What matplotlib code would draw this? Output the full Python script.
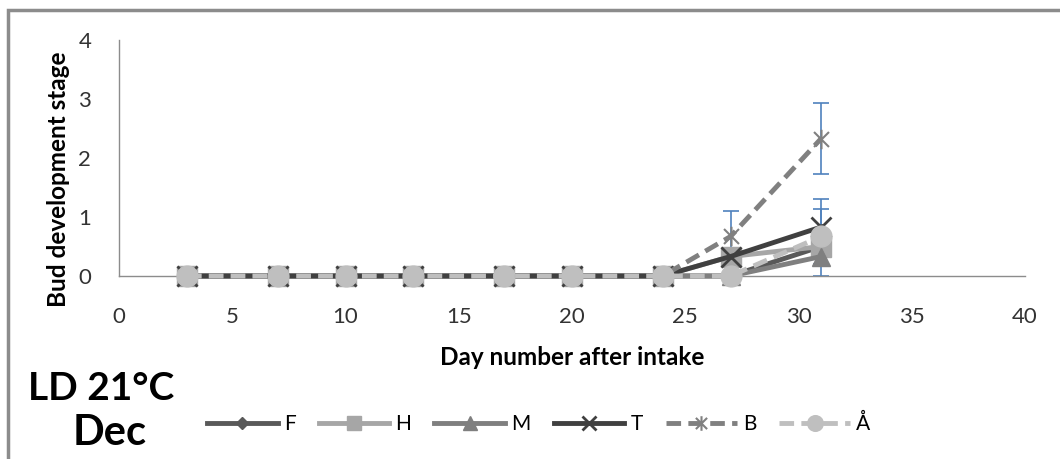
import numpy as np
import matplotlib
matplotlib.use('Agg')
import matplotlib.pyplot as plt
from matplotlib.path import Path
from matplotlib.patches import Rectangle
from matplotlib.lines import Line2D

#==============================================================================
# Data
#==============================================================================
days = [3, 7, 10, 13, 17, 20, 24, 27, 31]
stage_F = [0, 0, 0, 0, 0, 0, 0, 0, 0.5]
stage_H = [0, 0, 0, 0, 0, 0, 0, 0.33, 0.5]
stage_M = [0, 0, 0, 0, 0, 0, 0, 0, 0.33]
stage_T = [0, 0, 0, 0, 0, 0, 0, 0.33, 0.83]
stage_B = [0, 0, 0, 0, 0, 0, 0, 0.67, 2.33]
stage_A = [0, 0, 0, 0, 0, 0, 0, 0, 0.67]
err_M = [0, 0, 0, 0, 0, 0, 0, 0, 0.33]
err_T = [0, 0, 0, 0, 0, 0, 0, 0, 0.47]
err_B = [0, 0, 0, 0, 0, 0, 0, 0.44, 0.6]
err_A = [0, 0, 0, 0, 0, 0, 0, 0, 0.47]
labels = ['F', 'H', 'M', 'T', 'B', 'Å']

plt.rcParams['font.family'] = ['Lato', 'DejaVu Sans']

# Excel style "star" marker: an x with a vertical bar
star = Path([(-1, -1), (1, 1), (-1, 1), (1, -1), (0, -1.3), (0, 1.3)],
            [Path.MOVETO, Path.LINETO, Path.MOVETO, Path.LINETO, Path.MOVETO, Path.LINETO])

# series styles: colour, linestyle, marker, marker size, marker edge width
dash = (0, (3, 1.5))
styles = [
    ('#595959', '-', 'D', 8, 1),
    ('#a6a6a6', '-', 's', 14, 1),
    ('#7f7f7f', '-', '^', 13, 1),
    ('#404040', '-', 'x', 14, 2),
    ('#808080', dash, star, 14, 1.5),
    ('#bfbfbf', dash, 'o', 15, 1),
]
series = [stage_F, stage_H, stage_M, stage_T, stage_B, stage_A]
errors = [None, None, err_M, err_T, err_B, err_A]

fig = plt.figure(figsize=(10.6, 4.59), dpi=100)
ax = fig.add_axes([119/1060, 1 - 276/459, (1025 - 119)/1060, (276 - 40)/459])

errc = '#4f81bd'
handles = []
for vals, err, (c, ls, m, ms, mew), lab in zip(series, errors, styles, labels):
    if err is not None:
        ax.errorbar(days, vals, yerr=err, fmt='none', ecolor=errc, elinewidth=1.2,
                    capsize=6, capthick=1.2, zorder=2, clip_on=False)
    ax.plot(days, vals, color=c, lw=3.5, ls=ls, marker=m, ms=ms, mew=mew, zorder=3, clip_on=False)
    handles.append(Line2D([], [], color=c, lw=3.5, ls=ls, marker=m, ms=ms*0.75, mew=mew))

ax.set_xlim(0, 40)
ax.set_ylim(0, 4)
ax.set_xticks(range(0, 41, 5))
ax.set_yticks(range(0, 5))
ax.tick_params(length=0, labelsize=16, colors='#333333')
ax.tick_params(axis='x', pad=22)
ax.tick_params(axis='y', pad=20)
for s in ['top', 'right']:
    ax.spines[s].set_visible(False)
for s in ['left', 'bottom']:
    ax.spines[s].set_color('#8c8c8c')
    ax.spines[s].set_linewidth(1)

ax.set_xlabel('Day number after intake', fontsize=17.5, fontweight='bold', labelpad=14)
ax.set_ylabel('Bud development stage', fontsize=17.5, fontweight='bold')
ax.yaxis.set_label_coords(-0.054, 0.41)

fig.text(101/1060, 1 - 388/459, 'LD 21°C', fontsize=28, fontweight='bold', ha='center', va='center')
fig.text(110/1060, 1 - 433/459, 'Dec', fontsize=30, fontweight='bold', ha='center', va='center')

fig.legend(handles, labels, ncol=6, loc='center left', bbox_to_anchor=(188/1060, 1 - 424/459),
           frameon=False, fontsize=15, handlelength=3.4, handletextpad=0.3, columnspacing=1.1)

# outer chart border
fig.patches.append(Rectangle((8/1060, -0.05), 1.2, 1 - 10/459 + 0.05, transform=fig.transFigure,
                             fill=False, edgecolor='#8c8c8c', lw=2.5))

fig.savefig('out.png', dpi=100)
